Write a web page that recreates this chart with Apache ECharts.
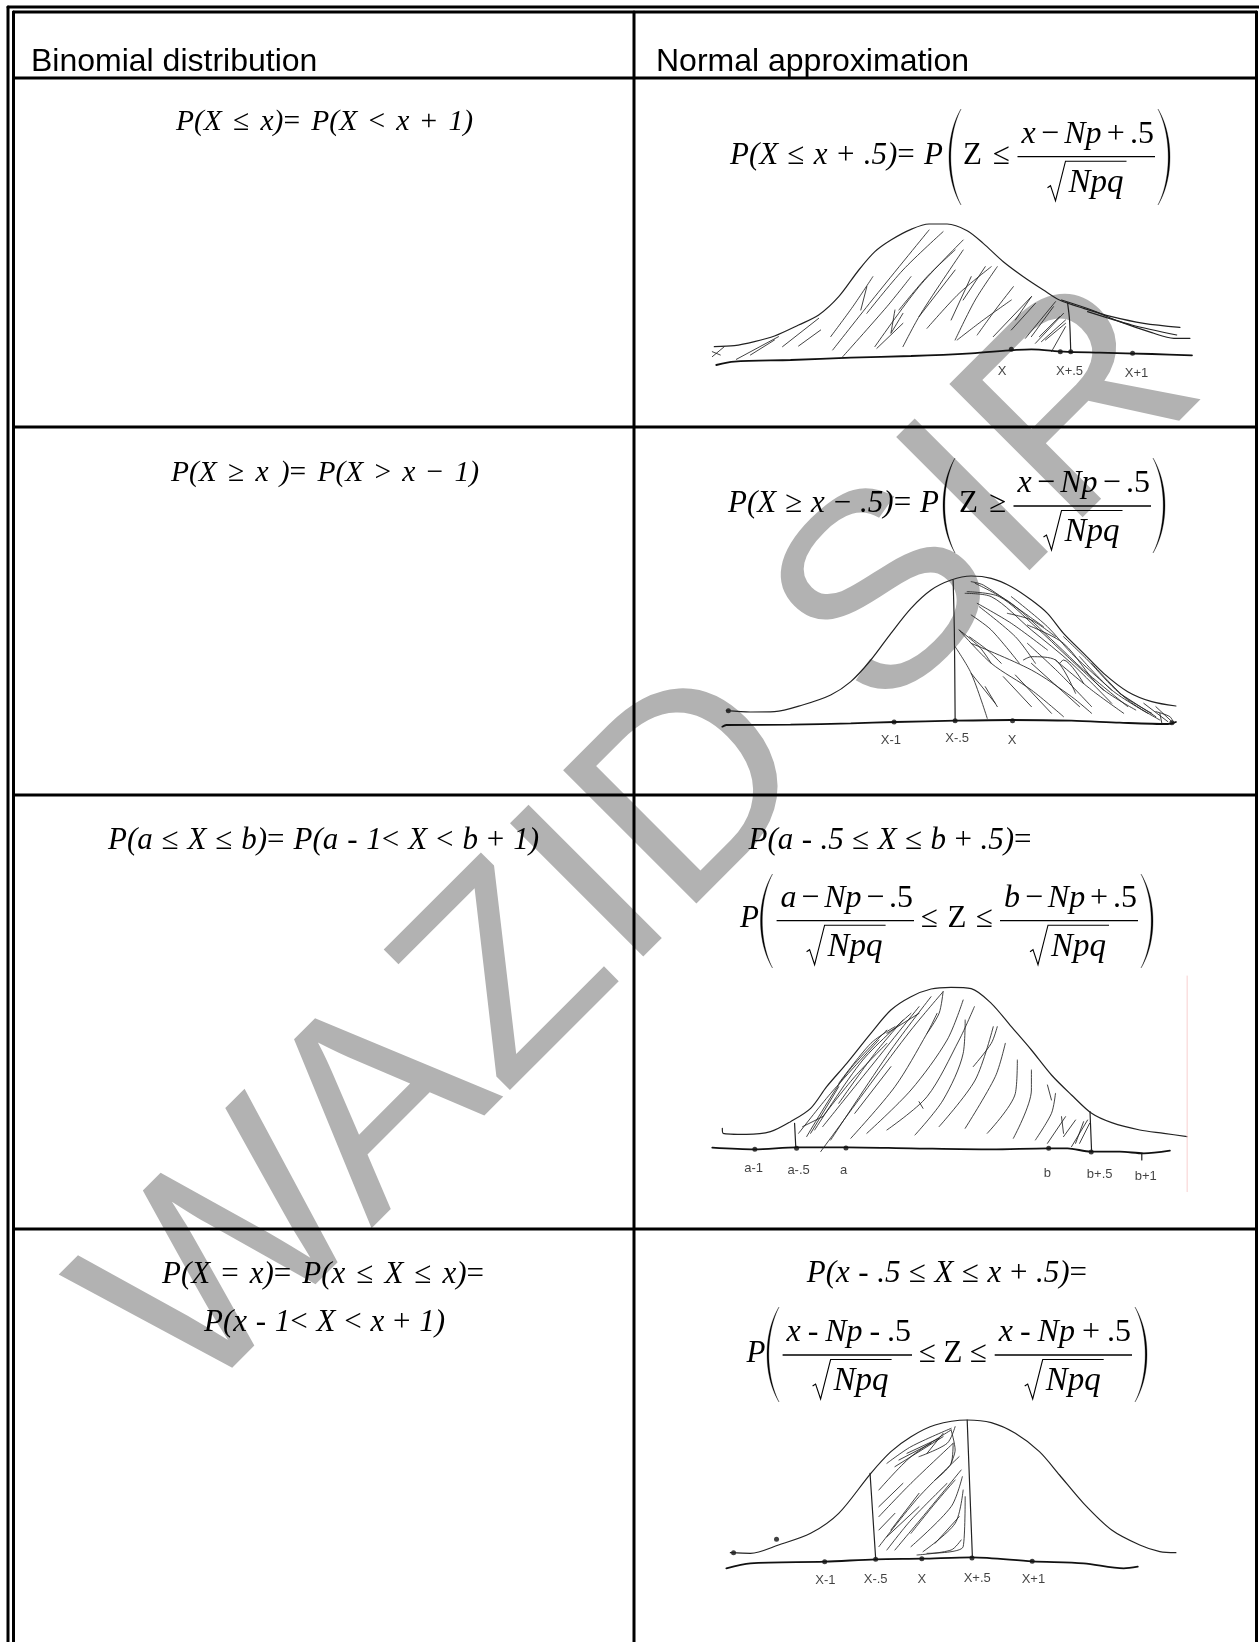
<!DOCTYPE html>
<html>
<head>
<meta charset="utf-8">
<title>Normal approximation to the binomial</title>
<script src="https://cdn.jsdelivr.net/npm/echarts@6/dist/echarts.min.js"></script>
<style>
  html, body { margin: 0; padding: 0; background: #fff; }
  #main { width: 1259px; height: 1642px; }
</style>
</head>
<body>
<div id="main"></div>
<script>
// table rules, page pixels
const ruleRows = [78, 427, 795, 1229]
const ruleMid = 634
const frameLeft = [8, 13.5]
const frameRight = 1256.5
const frameTop = [7, 12]

const headers = ['Binomial distribution', 'Normal approximation']
const watermark = 'WAZID SIR'

// sketches: units are 1567 wide across the right column
const curve1 = [[210, 800], [260, 797], [310, 785], [360, 768], [420, 735], [470, 705], [520, 650], [570, 570], [610, 515], [650, 480], [700, 448], [745, 432], [790, 432], [840, 452], [880, 490], [930, 545], [980, 590], [1030, 630], [1070, 660], [1130, 685], [1200, 710], [1280, 730], [1370, 742]]
const tail1 = [[1075, 660], [1150, 690], [1220, 725], [1300, 758], [1355, 775], [1395, 775]]
const tail1b = [[1140, 695], [1250, 735], [1362, 765]]
const base1 = [[215, 855], [260, 845], [400, 840], [550, 833], [700, 828], [850, 820], [1000, 808], [1080, 815], [1170, 818], [1300, 822], [1400, 826]]
const cut1 = [[1090, 668], [1095, 720], [1098, 815]]
const dots1 = [[950, 808], [1072, 815], [1098, 815], [1252, 820]]
const tickNames1 = ['X', 'X+.5', 'X+1']
const tickAt1 = [[927, 873], [1095, 873], [1262, 880]]
const hatch1 = [
  [[265, 838], [370, 770]], [[205, 830], [235, 800]], [[300, 825], [360, 780]], [[380, 800], [470, 715]],
  [[420, 798], [475, 750]], [[505, 810], [610, 650], [745, 450]], [[500, 770], [555, 680], [605, 590]], [[530, 830], [640, 680], [700, 590]],
  [[590, 700], [680, 570], [780, 455]], [[615, 805], [680, 730]], [[610, 800], [720, 620], [830, 480]], [[670, 690], [740, 590], [810, 510]],
  [[680, 800], [725, 700], [830, 510]], [[660, 690], [650, 760], [680, 700]], [[720, 710], [810, 570]], [[740, 745], [820, 640], [900, 560]],
  [[810, 780], [860, 660], [915, 560]], [[800, 720], [850, 590]], [[830, 660], [885, 560]], [[815, 780], [880, 720], [950, 660]],
  [[865, 765], [910, 690], [955, 620]], [[905, 770], [1000, 650]], [[950, 750], [1010, 670]], [[985, 775], [1060, 665]],
  [[1010, 790], [1080, 700]], [[1025, 785], [1085, 720]], [[1050, 815], [1085, 740]], [[1020, 770], [1070, 710]], [[1035, 780], [1085, 730]],
  [[1000, 770], [1055, 680]], [[205, 815], [225, 825]], [[960, 720], [1000, 650]], [[575, 690], [590, 620]]
]

const curve2 = [[240, 842], [300, 846], [360, 845], [430, 825], [500, 795], [550, 755], [600, 690], [650, 610], [700, 535], [750, 480], [800, 450], [850, 438], [900, 445], [950, 470], [1000, 510], [1040, 550], [1080, 610], [1130, 670], [1180, 730], [1240, 785], [1300, 815], [1360, 828]]
const base2 = [[230, 890], [240, 885], [400, 884], [550, 880], [660, 876], [810, 872], [950, 870], [1100, 872], [1220, 878], [1340, 882], [1360, 876]]
const cut2 = [[805, 450], [808, 600], [810, 872]]
const dots2 = [[245, 842], [658, 876], [810, 872], [953, 872], [1350, 878]]
const tickNames2 = ['X-1', 'X-.5', 'X']
const tickAt2 = [[650, 930], [815, 925], [952, 930]]
const hatch2 = [
  [[860, 460], [950, 520], [1060, 640], [1130, 720], [1240, 830]], [[835, 490], [900, 500], [1000, 600], [1100, 700], [1200, 820]],
  [[865, 520], [950, 580], [1040, 660]], [[850, 555], [900, 600], [970, 700]], [[820, 600], [870, 650], [900, 700]],
  [[845, 620], [890, 660], [925, 700]], [[810, 650], [850, 730], [890, 865]], [[850, 730], [910, 820]], [[885, 770], [915, 830]],
  [[930, 740], [1000, 830]], [[960, 735], [1050, 850]], [[1000, 700], [1120, 830]], [[850, 640], [1000, 720], [1100, 800], [1150, 850]],
  [[990, 585], [1080, 640], [1170, 770], [1260, 840]], [[1060, 690], [1150, 780], [1230, 850]], [[1220, 790], [1310, 860]],
  [[1280, 820], [1340, 875]], [[1310, 830], [1350, 875]], [[950, 500], [1040, 590], [1100, 670], [1200, 780]],
  [[840, 485], [920, 500], [1010, 590], [1090, 680], [1180, 780]], [[870, 530], [960, 620], [1010, 700]], [[990, 640], [1070, 730], [1150, 830]],
  [[1080, 620], [1140, 690], [1220, 790], [1300, 850]], [[1120, 680], [1200, 780], [1290, 850]], [[1150, 700], [1240, 810], [1320, 870]],
  [[980, 690], [1000, 680], [1060, 690], [1110, 790]], [[1070, 700], [1080, 690], [1130, 760]], [[820, 600], [900, 700], [1000, 780], [1080, 860]],
  [[940, 550], [1000, 570], [1060, 620]], [[1310, 845], [1345, 860], [1355, 880]], [[1320, 850], [1325, 880]], [[850, 455], [880, 465], [960, 530], [1030, 590]]
]

const curve3 = [[230, 985], [232, 1000], [290, 1003], [350, 995], [400, 965], [450, 925], [490, 860], [540, 790], [600, 700], [650, 630], [700, 590], [750, 567], [800, 562], [850, 566], [900, 610], [950, 680], [1000, 750], [1050, 825], [1100, 885], [1150, 940], [1200, 968], [1270, 990], [1330, 1000], [1388, 1010]]
const base3 = [[205, 1043], [310, 1048], [415, 1042], [540, 1042], [700, 1045], [900, 1048], [1040, 1045], [1090, 1045], [1148, 1055], [1220, 1055], [1280, 1060], [1345, 1052]]
const cut3 = [[410, 970], [413, 1042]]
const cut3b = [[1146, 935], [1150, 1055]]
const tick3 = [[1275, 1060], [1275, 1080]]
const edge3 = [[1388, 528], [1388, 1175]]
const dots3 = [[311, 1048], [415, 1045], [538, 1044], [1043, 1045], [1149, 1056]]
const tickNames3 = ['a-1', 'a-.5', 'a', 'b', 'b+.5', 'b+1']
const tickAt3 = [[308, 1105], [420, 1110], [532, 1112], [1040, 1120], [1170, 1122], [1285, 1128]]
const hatch3 = [
  [[475, 1055], [600, 850], [700, 690], [780, 575]], [[550, 1015], [660, 860], [740, 700], [765, 640]], [[590, 1000], [700, 870], [790, 720], [830, 600]],
  [[640, 990], [740, 890], [820, 720], [858, 620]], [[710, 1005], [780, 900], [830, 760], [835, 660]], [[770, 980], [860, 840], [905, 680]],
  [[835, 985], [910, 830], [935, 730]], [[890, 1000], [960, 880], [965, 780]], [[955, 1015], [1000, 870], [1000, 810]], [[1010, 1020], [1050, 940], [1060, 880]],
  [[1040, 1030], [1085, 950]], [[1080, 1010], [1110, 960]], [[1100, 1040], [1140, 960]], [[420, 1000], [500, 880], [620, 720]], [[440, 1010], [540, 820], [640, 690]],
  [[460, 990], [580, 780], [700, 640]], [[480, 980], [560, 860], [720, 620]], [[500, 1020], [650, 750], [750, 590]], [[640, 700], [720, 640]],
  [[520, 850], [600, 730], [660, 680]], [[430, 980], [480, 950]], [[1120, 1030], [1145, 970]], [[720, 905], [730, 925]],
  [[480, 950], [560, 830], [640, 730]], [[450, 1000], [520, 860]], [[520, 910], [610, 760], [680, 660]], [[740, 700], [770, 640], [780, 575]],
  [[560, 940], [650, 800]], [[915, 680], [900, 730], [855, 800]], [[1040, 855], [1050, 900]], [[1075, 950], [1080, 1000]], [[1110, 1030], [1130, 965]]
]

const curve4 = [[250, 968], [300, 970], [370, 945], [450, 910], [520, 850], [600, 730], [650, 665], [700, 620], [760, 585], [840, 570], [900, 578], [960, 610], [1020, 665], [1070, 735], [1130, 820], [1200, 900], [1270, 945], [1320, 965], [1360, 968]]
const base4 = [[240, 1015], [300, 1000], [485, 995], [612, 988], [727, 986], [852, 982], [1002, 994], [1130, 1000], [1230, 1015], [1265, 1010]]
const cut4 = [[598, 730], [612, 985]]
const cut4b = [[840, 570], [853, 982]]
const dots4 = [[258, 968], [365, 928], [485, 995], [612, 988], [727, 986], [852, 984], [1002, 994]]
const tickNames4 = ['X-1', 'X-.5', 'X', 'X+.5', 'X+1']
const tickAt4 = [[487, 1050], [612, 1048], [727, 1048], [865, 1045], [1005, 1048]]
const hatch4 = [
  [[640, 700], [700, 650], [800, 595]], [[660, 710], [780, 620]], [[670, 690], [750, 640]], [[620, 780], [700, 680], [800, 600]],
  [[620, 860], [700, 760], [805, 640]], [[620, 950], [720, 800], [820, 680]], [[660, 960], [750, 830], [825, 720]],
  [[700, 950], [800, 830], [828, 740]], [[730, 965], [810, 880], [830, 780]], [[740, 970], [830, 950], [835, 800]],
  [[800, 600], [810, 660], [800, 700]], [[690, 670], [770, 625]], [[620, 830], [680, 760]], [[640, 920], [720, 830]],
  [[640, 960], [700, 870], [790, 760]], [[650, 900], [720, 790]], [[620, 900], [660, 850]], [[700, 910], [760, 820], [810, 750]],
  [[760, 940], [820, 860]], [[715, 975], [800, 960], [825, 930]], [[780, 610], [740, 670]], [[810, 590], [790, 640], [720, 680]], [[805, 640], [800, 700], [760, 750]]
]

const sketches = [
  { top: 80, height: 350, lines: [curve1, tail1, tail1b, cut1], base: base1, hatch: hatch1, dots: dots1, names: tickNames1, at: tickAt1 },
  { top: 430, height: 370, lines: [curve2, cut2], base: base2, hatch: hatch2, dots: dots2, names: tickNames2, at: tickAt2 },
  { top: 800, height: 400, lines: [curve3, cut3, cut3b, tick3], base: base3, hatch: hatch3, dots: dots3, names: tickNames3, at: tickAt3, edge: edge3 },
  { top: 1230, height: 412, lines: [curve4, cut4, cut4b], base: base4, hatch: hatch4, dots: dots4, names: tickNames4, at: tickAt4 }
]

// formula text, [..] marks upright runs, spaces share out the spare width
const SERIF = '"Liberation Serif"'
const SANS = '"Liberation Sans"'
const ctx = document.createElement('canvas').getContext('2d')
const graphics = []

function textEl(x, y, text, font, fill) {
  return {
    type: 'text',
    x: x,
    y: y,
    z: 10,
    silent: true,
    style: { text: text, font: font, fill: fill || '#000', textAlign: 'left', textVerticalAlign: 'middle' }
  }
}

// lay a formula out between x0 and x1 with its baseline on y
function eq(x0, x1, y, str, size) {
  size = size || 31
  const runs = []
  str.split(/(\[[^\]]*\]|[≤≥=+−<>-]| +)/).forEach(part => {
    if (!part) return
    if (/^ +$/.test(part)) {
      if (runs.length) runs[runs.length - 1].gap += part.length
      return
    }
    const up = /^\[/.test(part) || /^[≤≥=+−<>-]$/.test(part)
    const text = part.replace(/[\[\]]/g, '')
    const font = (up ? '' : 'italic ') + size + 'px ' + SERIF
    ctx.font = font
    runs.push({ text: text, font: font, w: ctx.measureText(text).width, gap: 0 })
  })
  const total = runs.reduce((s, r) => s + r.w, 0)
  const weight = runs.slice(0, -1).reduce((s, r) => s + r.gap, 0)
  const unit = weight > 0 ? (x1 - x0 - total) / weight : 0
  let x = x0
  runs.forEach(r => {
    graphics.push(textEl(x, y - size * 0.29, r.text, r.font))
    x += r.w + r.gap * unit
  })
}

function lineEl(points, width) {
  graphics.push({
    type: 'polyline',
    z: 10,
    silent: true,
    shape: { points: points },
    style: { stroke: '#000', fill: null, lineWidth: width || 1.3 }
  })
}

function frac(x0, x1, bar, num) {
  lineEl([[x0, bar], [x1, bar]])
  eq(x0 + 4, x1 - 1, bar - 13, num, 32)
  eq(x0 + 51, x0 + 106, bar + 36, 'Npq', 33)
  lineEl([[x0 + 30, bar + 31], [x0 + 33, bar + 29], [x0 + 38, bar + 44], [x0 + 48, bar + 4.5], [x0 + 109, bar + 4.5]], 1.1)
}

// big brackets as thin crescents
function paren(xEnd, xBelly, top, bottom) {
  const h = bottom - top
  const c = xEnd + (xBelly - xEnd) / 0.75
  const d = xBelly > xEnd ? -2.4 : 2.4
  const pts = []
  const arc = (cx, from, to, step) => {
    for (let k = from; k !== to + step; k += step) {
      const t = k / 24, u = 1 - t
      pts.push([
        u * u * u * xEnd + 3 * u * u * t * cx + 3 * u * t * t * cx + t * t * t * xEnd,
        u * u * u * top + 3 * u * u * t * (top + h * 0.28) + 3 * u * t * t * (bottom - h * 0.28) + t * t * t * bottom
      ])
    }
  }
  arc(c, 0, 24, 1)
  arc(c + d, 24, 0, -1)
  graphics.push({ type: 'polygon', z: 10, silent: true, shape: { points: pts }, style: { fill: '#000', stroke: '#000', lineWidth: 0.3 } })
}

function parens(x0, x1, top, bottom) {
  paren(x0 + 12, x0, top, bottom)
  paren(x1 - 12, x1, top, bottom)
}

// left column
eq(176, 473, 131, 'P(X ≤ x)= P(X < x + 1)', 29.5)
eq(171, 479, 482, 'P(X ≥ x )= P(X > x − 1)', 29.5)
eq(108, 539, 850, 'P(a ≤ X ≤ b)= P(a - 1< X < b + 1)', 31)
eq(162, 484, 1284, 'P(X = x)= P(x ≤ X ≤ x)=', 31)
eq(204, 445, 1332, 'P(x - 1< X < x + 1)', 31)

// right column
eq(730, 943, 165, 'P(X ≤ x + .5)= P')
eq(963, 1010, 165, '[Z] ≤')
parens(949, 1170, 109, 205)
frac(1017.5, 1155, 156.7, 'x − Np + [.5]')

eq(728, 939, 513, 'P(X ≥ x − .5)= P')
eq(959, 1006, 513, '[Z] ≥')
parens(943, 1165, 458, 553)
frac(1013.5, 1151, 506, 'x − Np − [.5]')

eq(748.5, 1031.6, 850, 'P(a - .5 ≤ X ≤ b + .5)=')
eq(740, 757, 928, 'P')
parens(760.5, 1153, 874, 968)
frac(776.6, 914, 920.7, 'a − Np − [.5]')
eq(921, 993, 928, '≤ [Z] ≤')
frac(1000, 1138, 920.7, 'b − Np + [.5]')

eq(806.7, 1087, 1283, 'P(x - .5 ≤ X ≤ x + .5)=')
eq(746.5, 764, 1362.7, 'P')
parens(767, 1147, 1307, 1402)
frac(782.6, 912, 1355, 'x - Np - [.5]')
eq(919, 987, 1362.7, '≤ [Z] ≤')
frac(994.7, 1132, 1355, 'x - Np + [.5]')

graphics.push(textEl(31, 62, headers[0], '32px ' + SANS))
graphics.push(textEl(656, 62, headers[1], '32px ' + SANS))

// watermark sits behind everything else
graphics.push({
  type: 'text',
  x: 647,
  y: 846,
  z: 0,
  silent: true,
  rotation: Math.PI / 4,
  scaleX: 1.025,
  style: { text: watermark, font: '274px ' + SANS, fill: '#b2b2b2', textAlign: 'center', textVerticalAlign: 'middle' }
})

const grids = [{ left: 0, top: 0, width: 1259, height: 1642 }]
const xAxes = [{ type: 'value', min: 0, max: 1259, show: false }]
const yAxes = [{ type: 'value', min: 0, max: 1642, inverse: true, show: false }]
const series = []

function addLine(axis, data, width, color, opacity) {
  series.push({
    type: 'line',
    xAxisIndex: axis,
    yAxisIndex: axis,
    data: data,
    symbol: 'none',
    smooth: data.length > 2 ? 0.3 : false,
    silent: true,
    clip: false,
    lineStyle: { color: color || '#222', width: width, opacity: opacity || 1, cap: 'round' }
  })
}

// table rules
ruleRows.forEach(y => addLine(0, [[frameLeft[1], y], [frameRight, y]], 3, '#000'))
addLine(0, [[ruleMid, frameTop[1]], [ruleMid, 1642]], 3, '#000')
frameLeft.forEach((x, i) => addLine(0, [[x, 1642], [x, frameTop[i]]], 3, '#000'))
addLine(0, [[frameLeft[0], frameTop[0]], [1259, frameTop[0]]], 3, '#000')
addLine(0, [[frameLeft[1], frameTop[1]], [frameRight, frameTop[1]]], 3, '#000')
addLine(0, [[frameRight, frameTop[1]], [frameRight, 1642]], 3, '#000')

sketches.forEach((s, i) => {
  const axis = i + 1
  grids.push({ left: 630, top: s.top, width: 629, height: s.height })
  xAxes.push({ type: 'value', gridIndex: axis, min: 0, max: 1567, show: false })
  yAxes.push({ type: 'value', gridIndex: axis, min: 0, max: s.height * 3, inverse: true, show: false })
  s.lines.forEach(l => addLine(axis, l, 1.2))
  addLine(axis, s.base, 1.8, '#111')
  s.hatch.forEach(h => addLine(axis, h, 1, '#222', 0.85))
  if (s.edge) addLine(axis, s.edge, 1, '#f8cfcf')
  series.push({
    type: 'scatter',
    xAxisIndex: axis,
    yAxisIndex: axis,
    data: s.dots,
    symbolSize: 5,
    silent: true,
    itemStyle: { color: '#111' }
  })
  series.push({
    type: 'scatter',
    xAxisIndex: axis,
    yAxisIndex: axis,
    data: s.at.map((p, k) => ({ name: s.names[k], value: p })),
    symbolSize: 0,
    silent: true,
    label: {
      show: true,
      position: 'inside',
      formatter: '{b}',
      color: '#111',
      fontFamily: 'Liberation Sans Narrow, Liberation Sans',
      fontSize: 13
    }
  })
})

const myChart = echarts.init(document.getElementById('main'), null, { renderer: 'canvas' })
myChart.setOption({
  animation: false,
  backgroundColor: '#fff',
  grid: grids,
  xAxis: xAxes,
  yAxis: yAxes,
  graphic: { elements: graphics },
  series: series
})
</script>
</body>
</html>
